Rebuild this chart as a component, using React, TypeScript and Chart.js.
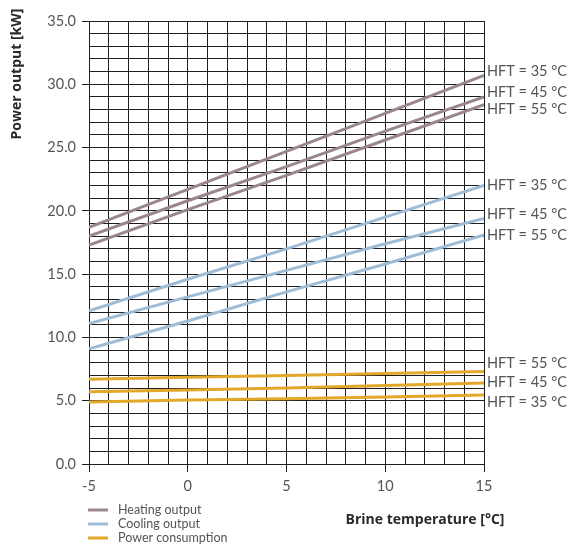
import React, { useEffect, useRef } from "react";
import { Chart, registerables } from "chart.js";

Chart.register(...registerables);

const brineTemps = [-5, 0, 5, 10, 15];
const heating35 = [18.7, 21.7, 24.7, 27.7, 30.7];
const heating45 = [18.0, 20.8, 23.5, 26.3, 29.0];
const heating55 = [17.3, 20.1, 22.8, 25.6, 28.4];
const cooling35 = [12.1, 14.6, 17.0, 19.5, 22.0];
const cooling45 = [11.1, 13.2, 15.3, 17.4, 19.4];
const cooling55 = [9.1, 11.3, 13.6, 15.8, 18.1];
const power55 = [6.7, 6.85, 7.0, 7.15, 7.3];
const power45 = [5.7, 5.85, 6.0, 6.2, 6.4];
const power35 = [4.9, 5.05, 5.15, 5.3, 5.45];

const hftLabels = ["HFT = 35 °C", "HFT = 45 °C", "HFT = 55 °C", "HFT = 35 °C", "HFT = 45 °C", "HFT = 55 °C", "HFT = 55 °C", "HFT = 45 °C", "HFT = 35 °C"];
const hftLabelValues = [31.0, 29.4, 28.0, 22.0, 19.7, 18.1, 7.95, 6.45, 4.9];

const legendLabels = ["Heating output", "Cooling output", "Power consumption"];
const xTitle = "Brine temperature [°C]";
const yTitle = "Power output [kW]";

const HEAT = "#9a878e";
const COOL = "#9fbcd6";
const POWER = "#e2a82a";

const toPts = (arr: number[]) => arr.map((y, i) => ({ x: brineTemps[i], y }));

export default function App() {
  const ref = useRef<HTMLCanvasElement | null>(null);
  useEffect(() => {
    const canvas = ref.current!;
    const series = [
      { d: heating35, c: HEAT },
      { d: heating45, c: HEAT },
      { d: heating55, c: HEAT },
      { d: cooling35, c: COOL },
      { d: cooling45, c: COOL },
      { d: cooling55, c: COOL },
      { d: power55, c: POWER },
      { d: power45, c: POWER },
      { d: power35, c: POWER },
    ];
    const font = "Lato, 'Open Sans', sans-serif";
    const titleFont = "'Open Sans', Lato, sans-serif";
    const extras = {
      id: "extras",
      afterDraw(chart: any) {
        const ctx = chart.ctx;
        const ys = chart.scales.y;
        const area = chart.chartArea;
        ctx.save();
        ctx.fillStyle = "#555";
        ctx.font = `14.5px ${font}`;
        ctx.textBaseline = "middle";
        ctx.textAlign = "left";
        hftLabelValues.forEach((v, i) => {
          ctx.fillText(hftLabels[i], area.right + 3, ys.getPixelForValue(v));
        });
        // x title
        ctx.fillStyle = "#2a2a2a";
        ctx.font = `bold 14px ${titleFont}`;
        ctx.textAlign = "center";
        ctx.fillText(xTitle, 425, 520);
        // y title
        ctx.save();
        ctx.translate(17, 74);
        ctx.rotate(-Math.PI / 2);
        ctx.fillText(yTitle, 0, 0);
        ctx.restore();
        // legend
        const colors = [HEAT, COOL, POWER];
        ctx.font = `12.5px ${font}`;
        ctx.textAlign = "left";
        legendLabels.forEach((t, i) => {
          const y = 510 + i * 14;
          ctx.strokeStyle = colors[i];
          ctx.lineWidth = 3;
          ctx.beginPath();
          ctx.moveTo(88, y);
          ctx.lineTo(108, y);
          ctx.stroke();
          ctx.fillStyle = "#555";
          ctx.fillText(t, 118, y);
        });
        ctx.restore();
      },
    };
    const chart = new Chart(canvas, {
      type: "line",
      data: {
        datasets: series.map((s, i) => ({
          label: hftLabels[i],
          data: toPts(s.d),
          borderColor: s.c,
          backgroundColor: s.c,
          borderWidth: 3,
          pointRadius: 0,
          tension: 0,
        })),
      },
      options: {
        animation: false,
        responsive: false,
        layout: { padding: { top: 21, right: 88, left: 0, bottom: 0 } },
        plugins: { legend: { display: false }, tooltip: { enabled: false } },
        scales: {
          x: {
            type: "linear",
            min: -5,
            max: 15,
            afterFit: (s: any) => { s.height = 83; },
            ticks: {
              stepSize: 1,
              autoSkip: false,
              maxRotation: 0,
              padding: 6,
              color: "#555",
              font: { family: font, size: 14.5 },
              callback: (v: any) => (Number(v) % 5 === 0 ? String(v) : ""),
            },
            grid: {
              color: "#1e1e1e",
              lineWidth: 1,
              tickLength: 8,
              tickColor: (c: any) => (c.tick && c.tick.value % 5 === 0 ? "#1e1e1e" : "rgba(0,0,0,0)"),
            },
            border: { color: "#1e1e1e" },
          },
          y: {
            min: 0,
            max: 35,
            afterFit: (s: any) => { s.width = 89; },
            ticks: {
              stepSize: 1,
              autoSkip: false,
              padding: 6,
              color: "#555",
              font: { family: font, size: 14.5 },
              callback: (v: any) => (Number(v) % 5 === 0 ? Number(v).toFixed(1) : ""),
            },
            grid: {
              color: "#1e1e1e",
              lineWidth: 1,
              tickLength: 7,
              tickColor: (c: any) => (c.tick && c.tick.value % 5 === 0 ? "#1e1e1e" : "rgba(0,0,0,0)"),
            },
            border: { color: "#1e1e1e" },
          },
        },
      },
      plugins: [extras],
    });
    return () => chart.destroy();
  }, []);
  return (
    <div style={{ position: "fixed", left: 0, top: 0, width: 572, height: 547, background: "#fff" }}>
      <canvas ref={ref} width={572} height={547} />
    </div>
  );
}
